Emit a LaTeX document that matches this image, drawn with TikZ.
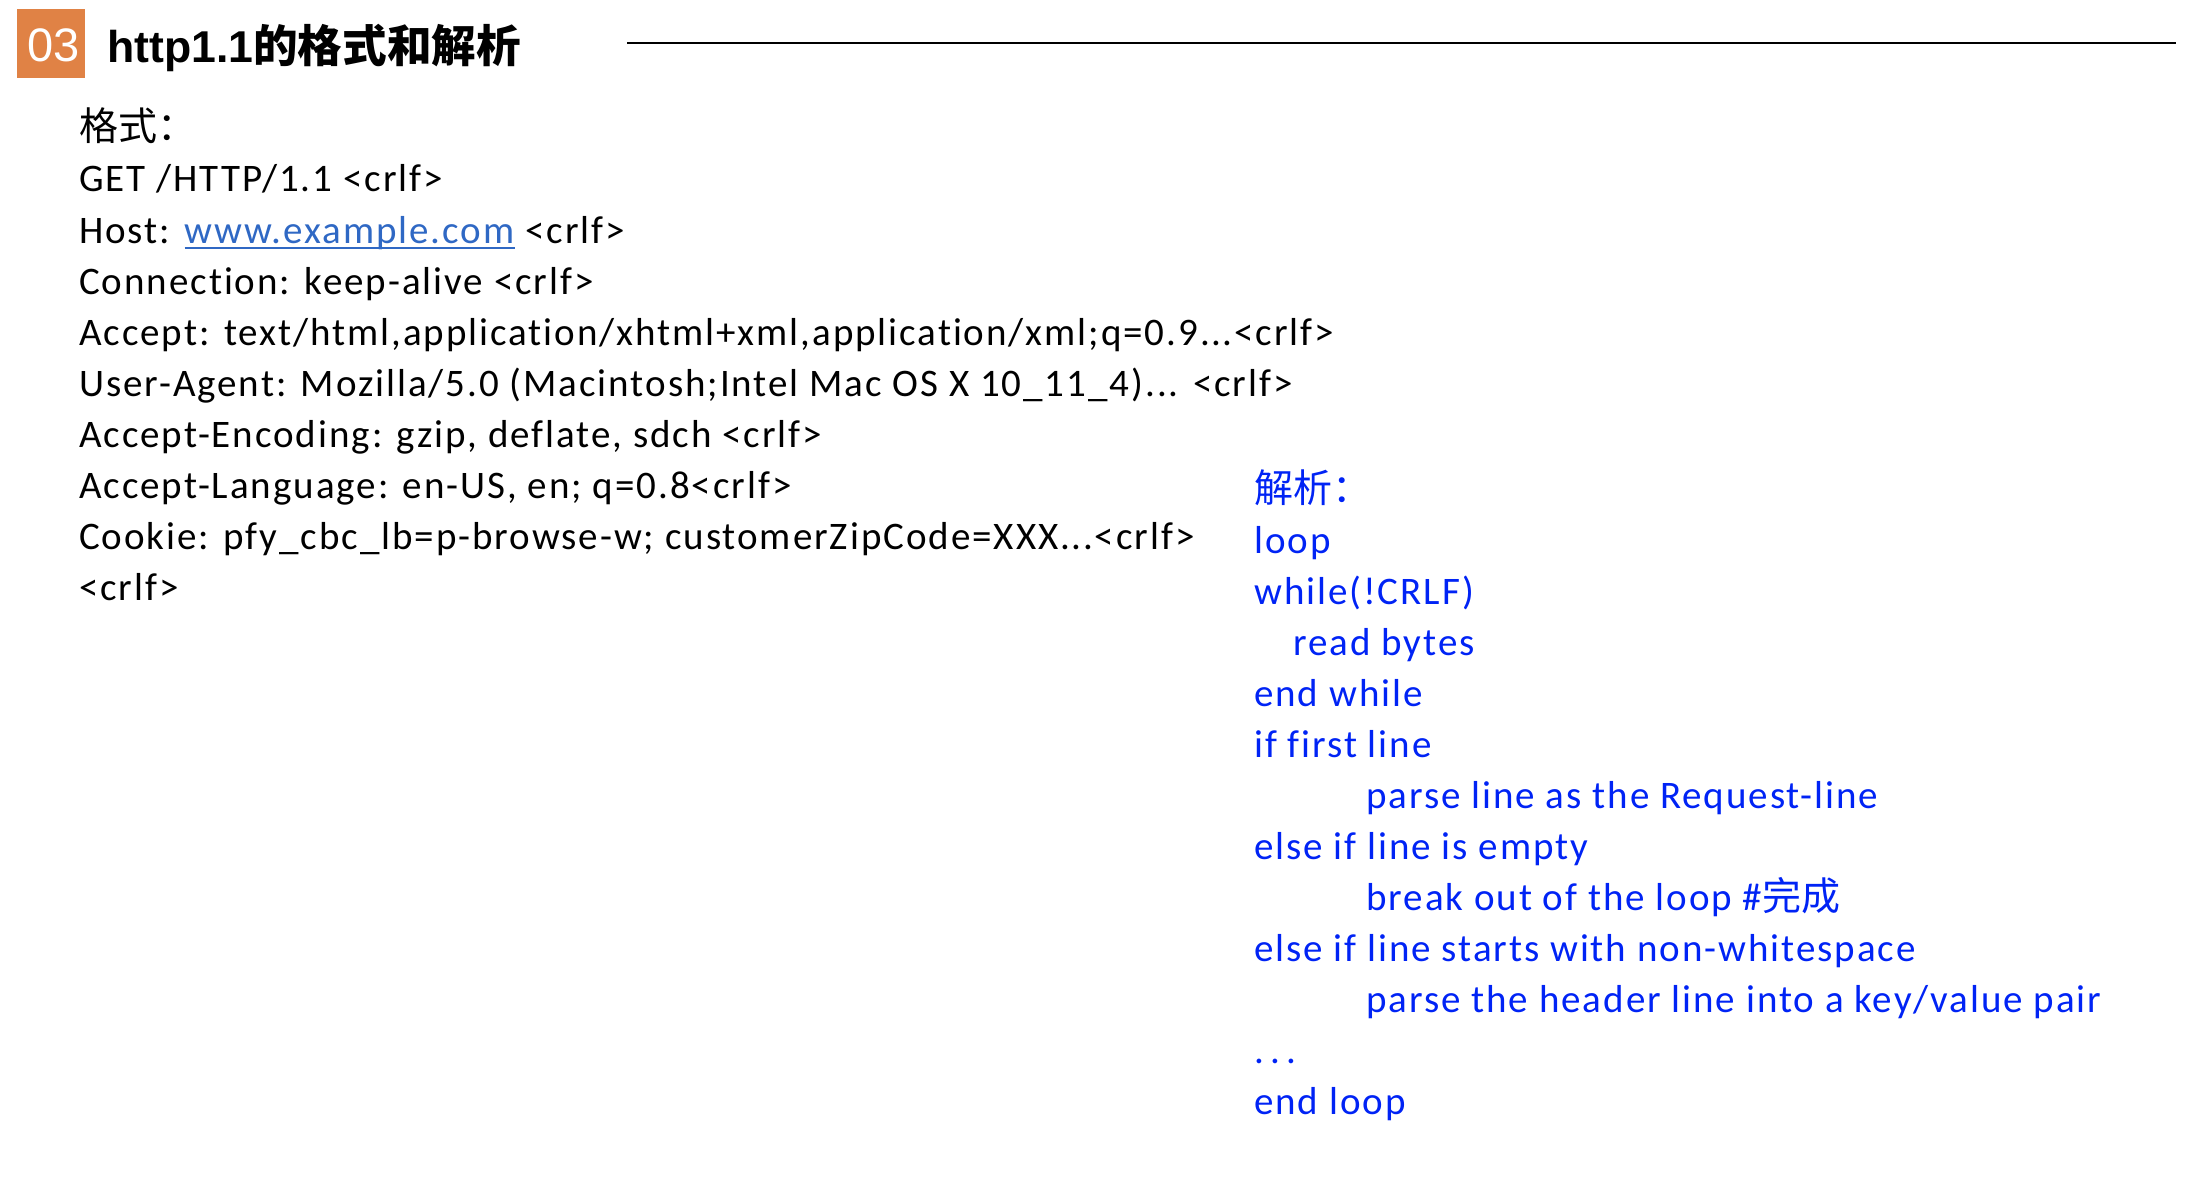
\documentclass[tikz,border=0pt]{standalone}
\usepackage{fontspec}
\setmainfont{Carlito}[LetterSpace=5, Ligatures={NoCommon}]
\newfontfamily\cjk{Noto Sans CJK SC}
\newfontfamily\titlefont{Liberation Sans}
\definecolor{orangebox}{RGB}{224,130,69}
\definecolor{linkblue}{RGB}{47,104,196}
\definecolor{codeblue}{RGB}{0,35,245}
\newcommand\ulink[1]{\setbox0\hbox{#1}\rlap{\rule[-6pt]{\wd0}{2.5pt}}\box0}
\newcommand\myellip{.\hspace{1.5pt}.\hspace{1.5pt}.}
\tikzset{
  txt/.style={anchor=base west, inner sep=0pt, font=\fontsize{39}{47}\selectfont},
  code/.style={txt, text=codeblue},
  badge/.style={fill=orangebox, inner sep=0pt, minimum width=68pt, minimum height=69pt},
  rulerline/.style={line width=2.5pt, black}
}
\begin{document}
\begin{tikzpicture}[x=1pt,y=-1pt]
\useasboundingbox (0,0) rectangle (2188,1180);
% header
\node[badge] (badge) at (51,43.5) {};
\node[anchor=base, inner sep=0pt, text=white, font=\titlefont\fontsize{47}{50}\selectfont] (num) at (53.5,62) {03};
\node[anchor=base west, inner sep=0pt, font=\fontsize{44.6}{50}\selectfont\bfseries] (title) at (107,63) {{\titlefont http1.1}{\cjk 的格式和解析}};
\coordinate (rl) at (627,43);
\coordinate (rr) at (2176,43);
\draw[rulerline] (rl) -- (rr);
% left block
\node[txt] (l1) at (79,141) {{\cjk 格式：}};
\node[txt] (l2) at (79,192) {GET /HTTP/1.1 <crlf>};
\node[txt] (l3) at (79,243) {Host: {\color{linkblue}\ulink{www.example.com}} <crlf>};
\node[txt] (l4) at (79,294) {Connection: keep-alive <crlf>};
\node[txt] (l5) at (79,345) {Accept: text/html,application/xhtml+xml,application/xml;q=0.9\myellip<crlf>};
\node[txt] (l6) at (79,396) {User-Agent: Mozilla/5.0 (Macintosh;Intel Mac OS X 10\_11\_4)... <crlf>};
\node[txt] (l7) at (79,447) {Accept-Encoding: gzip, deflate, sdch <crlf>};
\node[txt] (l8) at (79,498) {Accept-Language: en-US, en; q=0.8<crlf>};
\node[txt] (l9) at (79,549) {Cookie: pfy\_cbc\_lb=p-browse-w; customerZipCode=XXX\myellip<crlf>};
\node[txt] (l10) at (79,600) {<crlf>};
% right block
\node[code] (r1) at (1254,502) {{\cjk 解析：}};
\node[code] (r2) at (1254,553) {loop};
\node[code] (r3) at (1254,604) {while(!CRLF)};
\node[code] (r4) at (1293,655) {read bytes};
\node[code] (r5) at (1254,706) {end while};
\node[code] (r6) at (1254,757) {if first line};
\node[code] (r7) at (1366,808) {parse line as the Request-line};
\node[code] (r8) at (1254,859) {else if line is empty};
\node[code] (r9) at (1366,910) {break out of the loop \#{\cjk 完成}};
\node[code] (r10) at (1254,961) {else if line starts with non-whitespace};
\node[code] (r11) at (1366,1012) {parse the header line into a key/value pair};
\node[code] (r12) at (1254,1063) {.\hspace{6.5pt}.\hspace{6.5pt}.};
\node[code] (r13) at (1254,1114) {end loop};
\end{tikzpicture}
\end{document}
